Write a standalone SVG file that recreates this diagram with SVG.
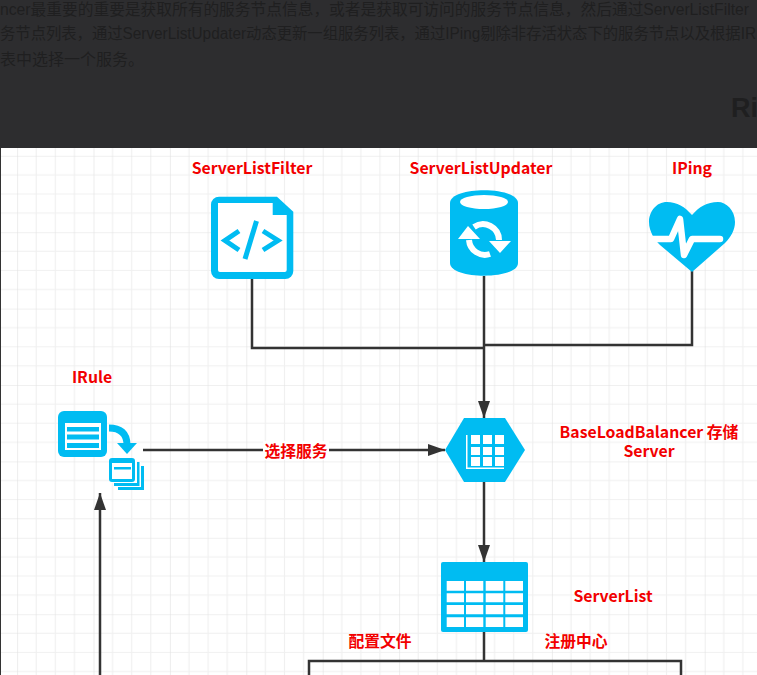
<svg xmlns="http://www.w3.org/2000/svg" width="757" height="675" viewBox="0 0 757 675">
<style>
.lbl{font-family:"Noto Sans CJK SC","Noto Sans",sans-serif;font-size:15.8px;font-weight:700;fill:#f20000;text-anchor:middle}
.top{font-family:"Liberation Sans","Noto Sans CJK SC",sans-serif;font-size:16px;fill:#1f1f20}
.i{fill:#00bcf2}
.w{fill:#fff}
.c{fill:none;stroke:#333;stroke-width:2.5}
</style>
<defs>
<pattern id="g" width="76.4" height="76.4" x="17.1" y="3" patternUnits="userSpaceOnUse">
<path d="M19.1 0V76.4M38.2 0V76.4M57.3 0V76.4M0 19.1H76.4M0 38.2H76.4M0 57.3H76.4" stroke="#f0f0f0" stroke-width="1.2" fill="none"/>
<path d="M0 0V76.4M0 0H76.4" stroke="#e2e2e2" stroke-width="1.2" fill="none"/>
</pattern>
<marker id="a" markerUnits="userSpaceOnUse" markerWidth="17" markerHeight="12" refX="17" refY="6" orient="auto"><path d="M0 0L17 6L0 12Z" fill="#333"/></marker>
</defs>
<rect width="757" height="675" fill="#fff"/>
<rect width="757" height="675" fill="url(#g)"/>
<rect width="757" height="148" fill="#2d2d2f"/>
<rect y="148" width="1" height="527" fill="#333"/>
<g id="page-text">
<text class="top" x="0" y="15" textLength="749" lengthAdjust="spacingAndGlyphs">ncer最重要的重要是获取所有的服务节点信息，或者是获取可访问的服务节点信息，然后通过ServerListFilter</text>
<text class="top" x="0" y="39" textLength="756" lengthAdjust="spacingAndGlyphs">务节点列表，通过ServerListUpdater动态更新一组服务列表，通过IPing剔除非存活状态下的服务节点以及根据IR</text>
<text class="top" x="0" y="65">表中选择一个服务。</text>
<text class="top" x="731" y="117" style="font-size:27px;font-weight:700">Ri</text>
</g>
<g id="connectors">
<path class="c" d="M252 279V348H484"/>
<path class="c" d="M692 271V345H484"/>
<path class="c" d="M484 276V418" marker-end="url(#a)"/>
<path class="c" d="M143 450H445" marker-end="url(#a)"/>
<path class="c" d="M484 482V562" marker-end="url(#a)"/>
<path class="c" d="M484 632V661M309 675V661H681V675"/>
<path class="c" d="M100 675V493" marker-end="url(#a)"/>
</g>
<g id="edge-label"><rect x="263" y="441" width="66" height="19" fill="#fff"/><text class="lbl" x="296" y="457">选择服务</text></g>
<g id="ServerListFilter">
<text class="lbl" x="252" y="174">ServerListFilter</text>
<path class="i" d="M219 196.700H277L293.300 211.700V271a8 8 0 0 1-8 8H219a8 8 0 0 1-8-8V204.700a8 8 0 0 1 8-8Z"/>
<path class="w" d="M218 203H272.700V215H286.700V270a2 2 0 0 1-2 2H220a2 2 0 0 1-2-2Z"/>
<path d="M239 231L225 240.500L239 250M263 231L278 240.500L263 250M256.500 221L245 259" fill="none" stroke="#00bcf2" stroke-width="5"/>
</g>
<g id="ServerListUpdater">
<text class="lbl" x="481" y="174">ServerListUpdater</text>
<path class="i" d="M450 203C450 186 518 186 518 203V263C518 280 450 280 450 263Z"/>
<ellipse class="w" cx="484" cy="202" rx="24" ry="7"/>
<path d="M474 227A16 16 0 0 1 499 240M469 240A16 16 0 0 0 490 254" fill="none" stroke="#fff" stroke-width="6"/>
<path class="w" d="M458 239L468 226L480 239ZM489 241H511L500 253Z"/>
</g>
<g id="IPing">
<text class="lbl" x="692" y="174">IPing</text>
<path class="i" d="M692 215C685 207 677 202 667 202C656 202 649 212 649 222C649 232 655 240 660 245L692 272L725 243C731 237 735 230 735 222C735 210 726 202 718 202C707 202 699 207 692 215Z"/>
<path d="M652 239H671L680 219L684 255L692 239H720" fill="none" stroke="#fff" stroke-width="6.500" stroke-linejoin="round" stroke-linecap="round"/>
</g>
<g id="IRule">
<text class="lbl" x="92" y="383">IRule</text>
<rect class="i" x="58" y="411" width="49" height="46" rx="6"/>
<rect class="w" x="65" y="423" width="36" height="27"/>
<path class="i" d="M67 427H99V431.500H67ZM67 434.500H99V439.500H67ZM67 443H99V448H67Z"/>
<path d="M109 428C120 428 127 433 127 445" fill="none" stroke="#00bcf2" stroke-width="7"/>
<path class="i" d="M117 443H137L127 454Z"/>
<path class="i" d="M118 466H144V490H118Z"/>
<path class="w" d="M115 462H141V487H115Z"/>
<path class="i" d="M114 462H139.500V486H114Z"/>
<path class="w" d="M111 460H137V483H111Z"/>
<rect class="i" x="109" y="458" width="26" height="24" rx="3"/>
<rect class="w" x="112" y="463" width="20" height="16"/>
<rect class="i" x="114" y="467" width="17" height="2.500"/>
</g>
<g id="BaseLoadBalancer">
<text class="lbl"><tspan x="649" y="438">BaseLoadBalancer 存储</tspan><tspan x="649" y="457">Server</tspan></text>
<path class="i" d="M445 450L464 418H505L525 450L505 482H464Z"/>
<path class="w" d="M466 435H467.500V467.500H504V469H466Z"/>
<path class="w" d="M471 435h9v9h-9ZM483 435h9v9h-9ZM495 435h9v9h-9ZM471 447h9v8h-9ZM483 447h9v8h-9ZM495 447h9v8h-9ZM471 457h9v9h-9ZM483 457h9v9h-9ZM495 457h9v9h-9Z"/>
</g>
<g id="ServerList">
<text class="lbl" x="613" y="602">ServerList</text>
<rect class="i" x="441" y="562" width="87" height="70" rx="2"/>
<path class="w" d="M446.700 581H464V590.700H446.700ZM466 581H483.300V590.700H466ZM485.700 581H503.300V590.700H485.700ZM505.300 581H523V590.700H505.300ZM446.700 593.300H464V602.300H446.700ZM466 593.300H483.300V602.300H466ZM485.700 593.300H503.300V602.300H485.700ZM505.300 593.300H523V602.300H505.300ZM446.700 605H464V614.300H446.700ZM466 605H483.300V614.300H466ZM485.700 605H503.300V614.300H485.700ZM505.300 605H523V614.300H505.300ZM446.700 617.300H464V627H446.700ZM466 617.300H483.300V627H466ZM485.700 617.300H503.300V627H485.700ZM505.300 617.300H523V627H505.300Z"/>
</g>
<g id="source-labels">
<text class="lbl" x="380" y="647">配置文件</text>
<text class="lbl" x="576" y="647">注册中心</text>
</g>
</svg>
